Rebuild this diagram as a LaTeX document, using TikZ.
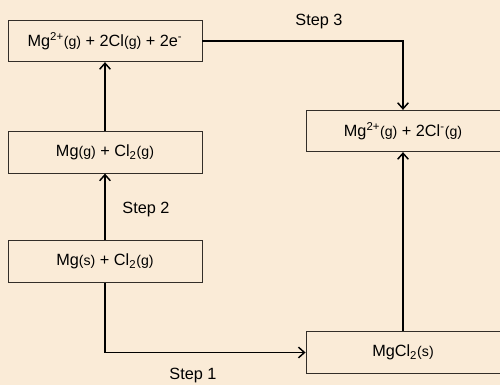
\documentclass[tikz,border=0pt]{standalone}
\usepackage{fontspec}
\setmainfont{Liberation Sans}
\usetikzlibrary{arrows.meta}

\definecolor{paper}{RGB}{250,235,215}
\definecolor{boxline}{RGB}{50,45,40}
\newcommand{\ph}[1]{{\fontsize{10.6}{12}\selectfont(#1)}}

\begin{document}
\begin{tikzpicture}[x=0.75pt,y=-0.75pt,
    level/.style={draw=boxline,line width=0.7pt,minimum width=145.5pt,minimum height=31pt,inner sep=0pt},
    link/.style={line width=1.1pt,-{Straight Barb[length=4.5pt,width=8pt,line width=1.1pt]}},
    font=\fontsize{12.2}{14}\selectfont]
\fill[paper] (0,0) rectangle (500,385);
\useasboundingbox (0,0) rectangle (500,385);

\node[level] (ionsg) at (105,41) {Mg\textsuperscript{2+}\ph{g} + 2Cl\ph{g} + 2e\textsuperscript{-}};
\node[level] (mgg) at (105,152.5) {Mg\ph{g} + Cl\textsubscript{2}\ph{g}};
\node[level] (mgs) at (105,261.5) {Mg\ph{s} + Cl\textsubscript{2}\ph{g}};
\node[level] (ions) at (403,131) {Mg\textsuperscript{2+}\ph{g} + 2Cl\textsuperscript{-}\ph{g}};
\node[level] (salt) at (403,352.5) {MgCl\textsubscript{2}\ph{s}};

% the three steps
\draw[link] (mgs.south) |- (salt.west);
\draw[link] (mgs.north) -- (mgg.south);
\draw[link] (mgg.north) -- (ionsg.south);
\draw[link] (ionsg.east) -| (ions.north);
\draw[link] (salt.north) -- (ions.south);

\node (step1) at (193,376) {Step 1};
\node (step2) at (146,210) {Step 2};
\node (step3) at (319,22) {Step 3};
\end{tikzpicture}
\end{document}
